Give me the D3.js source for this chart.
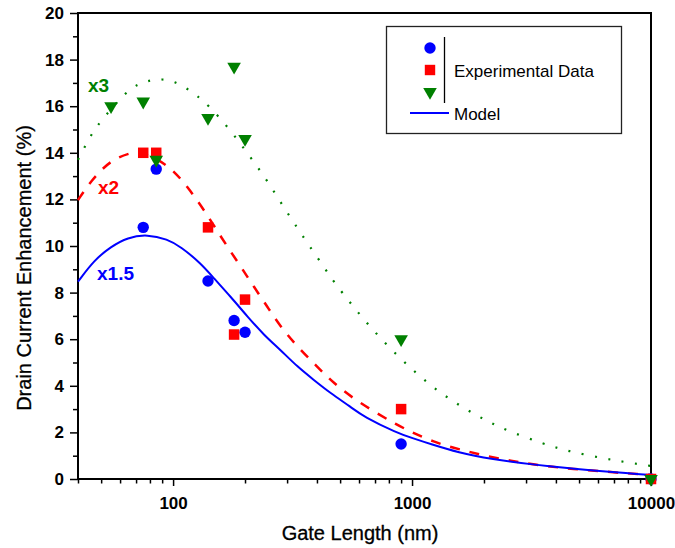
<!DOCTYPE html>
<html>
<head>
<meta charset="utf-8">
<script src="https://cdn.jsdelivr.net/npm/d3@7"></script>
<style>
  html, body { margin: 0; padding: 0; background: #fff; }
  svg { display: block; font-family: "Liberation Sans", Arial, sans-serif; }
</style>
</head>
<body>
<svg id="chart" width="675" height="548"></svg>
<script>
// Measured enhancement (%) versus gate length (nm), three stress multipliers
const gateCircle = [75, 85, 140, 180, 200, 900, 10000];
const valCircle  = [10.8, 13.3, 8.5, 6.8, 6.3, 1.5, 0];

const gateSquare = [75, 85, 140, 180, 200, 900, 10000];
const valSquare  = [14.0, 14.0, 10.8, 6.2, 7.7, 3.0, 0];

const gateTriangle = [55, 75, 85, 140, 180, 200, 900, 10000];
const valTriangle  = [16.0, 16.2, 13.7, 15.5, 17.7, 14.6, 6.0, 0];

// Model curves (x1.5, x2, x3)
const modelX15Gate = [40, 46.8, 54.9, 64.5, 78, 94.7, 107.7, 130.5, 148.3, 174.3, 204.6, 240, 281.5, 331, 388, 456, 553, 628, 866, 1000, 1193, 1591, 1995, 4305, 10000];
const modelX15Val  = [8.47, 9.4, 9.97, 10.37, 10.5, 10.29, 9.97, 9.26, 8.61, 7.82, 6.97, 6.18, 5.54, 4.82, 4.25, 3.68, 3.10, 2.67, 1.98, 1.76, 1.50, 1.12, 0.89, 0.46, 0.17];

const modelX2Gate = [40, 45.3, 54.9, 66.5, 72, 94.7, 114.8, 134.8, 158.3, 192, 218, 248, 281.5, 331, 401, 470, 580, 703, 853, 1016, 1232, 1494, 2577, 4590, 10000];
const modelX2Val  = [11.97, 12.8, 13.7, 14.0, 14.05, 13.55, 12.55, 11.55, 10.4, 9.11, 8.25, 7.39, 6.54, 5.68, 4.82, 4.11, 3.39, 2.86, 2.36, 1.96, 1.60, 1.32, 0.74, 0.42, 0.17];

const modelX3Gate = [40, 45, 48.3, 64, 71.7, 80.7, 89.7, 100, 113, 126, 140.6, 171.5, 204, 240, 277, 320, 372, 434, 470, 557, 672, 830, 1040, 1295, 1636, 2040, 2560, 3570, 4470, 6280, 7860, 10000];
const modelX3Val  = [13.7, 14.7, 15.2, 16.67, 16.95, 17.12, 17.17, 17.08, 16.8, 16.45, 16.04, 15.05, 14.0, 13.02, 12.0, 11.0, 10.0, 9.0, 8.47, 7.5, 6.49, 5.49, 4.54, 3.73, 3.06, 2.5, 2.03, 1.5, 1.2, 0.89, 0.72, 0.56];

// Axis ticks
const xMajorTicks = [100, 1000, 10000];
const xMinorTicks = [40, 50, 60, 70, 80, 90, 200, 300, 400, 500, 600, 700, 800, 900, 2000, 3000, 4000, 5000, 6000, 7000, 8000, 9000];
const yMajorTicks = [0, 2, 4, 6, 8, 10, 12, 14, 16, 18, 20];
const yMinorTicks = [1, 3, 5, 7, 9, 11, 13, 15, 17, 19];

const BLUE = "#0000ff", RED = "#ff0000", GREEN = "#008000";

const svg = d3.select("#chart");
const plotLeft = 78, plotRight = 651, plotTop = 13, plotBottom = 479;

const x = d3.scaleLog().domain([40, 10000]).range([plotLeft, plotRight]);
const y = d3.scaleLinear().domain([0, 20]).range([plotBottom, plotTop]);

// Axes
const yMajor = svg.append("g").attr("transform", `translate(${plotLeft},0)`)
  .call(d3.axisLeft(y).tickValues(yMajorTicks).tickSize(8).tickPadding(6).tickFormat(d3.format("d")));
const yMinor = svg.append("g").attr("transform", `translate(${plotLeft},0)`)
  .call(d3.axisLeft(y).tickValues(yMinorTicks).tickSize(5).tickFormat(""));
const xMajor = svg.append("g").attr("transform", `translate(0,${plotBottom})`)
  .call(d3.axisBottom(x).tickValues(xMajorTicks).tickSize(7).tickPadding(11).tickFormat(d3.format("d")));
const xMinor = svg.append("g").attr("transform", `translate(0,${plotBottom})`)
  .call(d3.axisBottom(x).tickValues(xMinorTicks).tickSize(4.5).tickFormat(""));

[yMajor, yMinor, xMajor, xMinor].forEach(g => {
  g.select(".domain").remove();
  g.selectAll(".tick line").attr("stroke", "#000").attr("stroke-width", 1.5);
  g.selectAll(".tick text")
    .attr("fill", "#000")
    .style("font-family", "'Liberation Sans', Arial, sans-serif")
    .style("font-size", "17px")
    .style("font-weight", "bold");
});

// Plot frame
svg.append("rect")
  .attr("x", plotLeft).attr("y", plotTop)
  .attr("width", plotRight - plotLeft).attr("height", plotBottom - plotTop)
  .attr("fill", "none").attr("stroke", "#000").attr("stroke-width", 2);

// Axis titles
svg.append("text")
  .attr("x", 360).attr("y", 540)
  .attr("text-anchor", "middle")
  .style("font-size", "20px")
  .attr("fill", "#000").attr("stroke", "#000").attr("stroke-width", 0.3)
  .text("Gate Length (nm)");

svg.append("text")
  .attr("transform", "translate(31,268) rotate(-90)")
  .attr("text-anchor", "middle")
  .style("font-size", "20px")
  .attr("fill", "#000").attr("stroke", "#000").attr("stroke-width", 0.3)
  .text("Drain Current Enhancement (%)");

// Model curves
const line = d3.line().x(d => x(d[0])).y(d => y(d[1])).curve(d3.curveBasis);
const models = [
  { gate: modelX3Gate, val: modelX3Val, color: GREEN, width: 2.2, dash: "2,11.5" },
  { gate: modelX2Gate, val: modelX2Val, color: RED, width: 2.5, dash: "10,10" },
  { gate: modelX15Gate, val: modelX15Val, color: BLUE, width: 2, dash: null }
];
models.forEach(m => {
  svg.append("path")
    .datum(d3.zip(m.gate, m.val))
    .attr("d", line)
    .attr("fill", "none")
    .attr("stroke", m.color)
    .attr("stroke-width", m.width)
    .attr("stroke-dasharray", m.dash);
});

// Curve labels
const labelStyle = s => s.style("font-size", "19px").style("font-weight", "bold");
svg.append("text").attr("x", 88).attr("y", 92).attr("fill", GREEN).call(labelStyle).text("x3");
svg.append("text").attr("x", 98).attr("y", 194).attr("fill", RED).call(labelStyle).text("x2");
svg.append("text").attr("x", 97).attr("y", 280).attr("fill", BLUE).call(labelStyle).text("x1.5");

// Experimental points
svg.append("g").selectAll("circle")
  .data(d3.zip(gateCircle, valCircle))
  .join("circle")
  .attr("cx", d => x(d[0])).attr("cy", d => y(d[1]))
  .attr("r", 5.7).attr("fill", BLUE);

const sq = 10.5;
svg.append("g").selectAll("rect")
  .data(d3.zip(gateSquare, valSquare))
  .join("rect")
  .attr("x", d => x(d[0]) - sq / 2).attr("y", d => y(d[1]) - sq / 2)
  .attr("width", sq).attr("height", sq).attr("fill", RED);

const tri = d3.symbol(d3.symbolTriangle, 80);
svg.append("g").selectAll("path")
  .data(d3.zip(gateTriangle, valTriangle))
  .join("path")
  .attr("d", tri)
  .attr("transform", d => `translate(${x(d[0])},${y(d[1])}) rotate(180)`)
  .attr("fill", GREEN);

// Legend
const legend = svg.append("g");
legend.append("rect")
  .attr("x", 386.5).attr("y", 26.5).attr("width", 235).attr("height", 107)
  .attr("fill", "#fff").attr("stroke", "#222").attr("stroke-width", 1.3);
legend.append("circle").attr("cx", 430).attr("cy", 48).attr("r", 5.7).attr("fill", BLUE);
legend.append("rect").attr("x", 430 - 5.2).attr("y", 70 - 5.2).attr("width", 10.4).attr("height", 10.4).attr("fill", RED);
legend.append("path").attr("d", tri).attr("transform", "translate(430,92) rotate(180)").attr("fill", GREEN);
legend.append("line").attr("x1", 444.5).attr("x2", 444.5).attr("y1", 37).attr("y2", 103)
  .attr("stroke", "#000").attr("stroke-width", 1.3);
legend.append("text").attr("x", 454).attr("y", 77).style("font-size", "17px").text("Experimental Data");
legend.append("line").attr("x1", 410).attr("x2", 449).attr("y1", 113).attr("y2", 113)
  .attr("stroke", BLUE).attr("stroke-width", 2);
legend.append("text").attr("x", 454).attr("y", 120).style("font-size", "17px").text("Model");
</script>
</body>
</html>
